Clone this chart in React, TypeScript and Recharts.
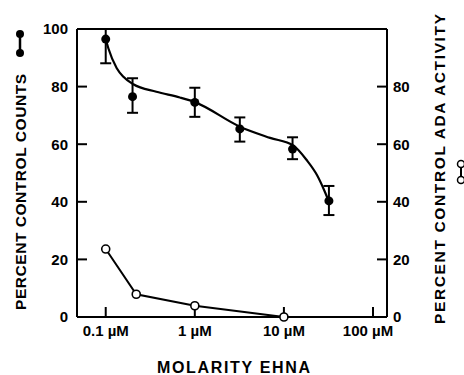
import { ComposedChart, Line, Scatter, XAxis, YAxis, ErrorBar, Label } from "recharts";

// filled circles: percent control counts (mean, lower and upper bar ends)
const countX = [0.1, 0.2, 1, 3.2, 12.5, 32];
const countY = [96.5, 76.5, 74.5, 65.3, 58.3, 40.3];
const countLow = [88.1, 70.9, 69.5, 60.9, 54.8, 35.4];
const countHigh = [100, 82.9, 79.6, 69.3, 62.4, 45.5];

// hand drawn fit through the counts
const fitX = [0.1, 0.107, 0.133, 0.158, 0.204, 0.37, 0.68, 1, 3.2, 7, 12.8, 18, 23.5, 28.8, 31.5];
const fitY = [96.5, 93.3, 86.4, 83.4, 80.8, 78.2, 76.2, 74.6, 66.1, 62.2, 59.5, 54.5, 49.3, 43.5, 40.6];

// open circles: percent control ADA activity
const adaX = [0.1, 0.22, 1, 10];
const adaY = [23.6, 7.9, 3.9, 0];

const xTicks = [0.1, 1, 10, 100];
const xTickLabels = ["0.1 µM", "1 µM", "10 µM", "100 µM"];
const leftTicks = [0, 20, 40, 60, 80, 100];
const rightTicks = [0, 20, 40, 60, 80];

const countData = countX.map((x, i) => ({
  x,
  y: countY[i],
  err: [countY[i] - countLow[i], countHigh[i] - countY[i]],
}));
const fitData = fitX.map((x, i) => ({ x, y: fitY[i] }));
const adaData = adaX.map((x, i) => ({ x, y: adaY[i] }));

const font = "'Liberation Sans', Arial, sans-serif";
const tickStyle = { fill: "#000", fontSize: 15, fontWeight: "bold", fontFamily: font };
const xDomain = [0.0476, 143.6];

// bottom tick text; the last one sits a little left of its tick, as in the print
const BottomTick = (p: any) => {
  const i = xTicks.indexOf(p.payload.value);
  return (
    <text
      x={p.x + (i === xTicks.length - 1 ? -5 : 0)}
      y={p.y}
      dy="0.71em"
      textAnchor="middle"
      fill="#000"
      fontSize={15}
      fontWeight="bold"
      fontFamily={font}
    >
      {xTickLabels[i]}
    </text>
  );
};

const LeftTitle = () => (
  <g>
    <line x1={20} y1={34} x2={20} y2={53} stroke="#000" strokeWidth={2.5} />
    <circle cx={20} cy={34} r={4} fill="#000" />
    <circle cx={20} cy={53} r={4} fill="#000" />
    <text
      x={20}
      y={192}
      transform="rotate(-90 20 192)"
      textAnchor="middle"
      dominantBaseline="central"
      textLength={236}
      lengthAdjust="spacing"
      fontFamily={font}
      fontWeight="bold"
      fontSize={15.5}
      fill="#000"
    >
      PERCENT CONTROL COUNTS
    </text>
  </g>
);

const RightTitle = () => (
  <g>
    <line x1={461} y1={164} x2={461} y2={180} stroke="#000" strokeWidth={2} />
    <circle cx={461} cy={164} r={3.5} fill="#fff" stroke="#000" strokeWidth={1.5} />
    <circle cx={461} cy={180} r={3.5} fill="#fff" stroke="#000" strokeWidth={1.5} />
    <text
      x={439}
      y={169}
      transform="rotate(-90 439 169)"
      textAnchor="middle"
      dominantBaseline="central"
      textLength={310}
      lengthAdjust="spacing"
      fontFamily={font}
      fontWeight="bold"
      fontSize={15.5}
      fill="#000"
    >
      PERCENT CONTROL ADA ACTIVITY
    </text>
  </g>
);

const BottomTitle = () => (
  <text
    x={233.5}
    y={373}
    textAnchor="middle"
    textLength={153}
    lengthAdjust="spacing"
    fontFamily={font}
    fontWeight="bold"
    fontSize={16}
    fill="#000"
  >
    MOLARITY EHNA
  </text>
);

export default function App() {
  return (
    <div style={{ position: "absolute", left: 0, top: 0, background: "#fff" }}>
      <ComposedChart width={464} height={375} margin={{ top: 19, right: 0, bottom: 0, left: 0 }}>
        <XAxis
          xAxisId="b"
          dataKey="x"
          type="number"
          scale="log"
          domain={xDomain}
          allowDataOverflow
          ticks={xTicks}
          height={58}
          tickSize={-10}
          tickMargin={18}
          tick={BottomTick}
          axisLine={{ stroke: "#000", strokeWidth: 2 }}
          tickLine={{ stroke: "#000", strokeWidth: 2 }}
        >
          <Label content={BottomTitle} />
        </XAxis>
        <XAxis
          xAxisId="t"
          orientation="top"
          type="number"
          scale="log"
          domain={xDomain}
          allowDataOverflow
          ticks={xTicks}
          tickFormatter={() => ""}
          height={10}
          tickSize={-10}
          axisLine={{ stroke: "#000", strokeWidth: 2 }}
          tickLine={{ stroke: "#000", strokeWidth: 2 }}
        />
        <YAxis
          yAxisId="l"
          type="number"
          domain={[0, 100]}
          ticks={leftTicks}
          width={77}
          tickSize={-10}
          tickMargin={19}
          tick={tickStyle}
          axisLine={{ stroke: "#000", strokeWidth: 2 }}
          tickLine={{ stroke: "#000", strokeWidth: 2 }}
        >
          <Label content={LeftTitle} />
        </YAxis>
        <YAxis
          yAxisId="r"
          orientation="right"
          type="number"
          domain={[0, 100]}
          ticks={rightTicks}
          width={77}
          tickSize={-10}
          tickMargin={16}
          tick={tickStyle}
          axisLine={{ stroke: "#000", strokeWidth: 2 }}
          tickLine={{ stroke: "#000", strokeWidth: 2 }}
        >
          <Label content={RightTitle} />
        </YAxis>
        <Line
          xAxisId="b"
          yAxisId="l"
          data={fitData}
          dataKey="y"
          type="monotone"
          stroke="#000"
          strokeWidth={2.2}
          dot={false}
          activeDot={false}
          isAnimationActive={false}
        />
        <Line
          xAxisId="b"
          yAxisId="r"
          data={adaData}
          dataKey="y"
          type="linear"
          stroke="#000"
          strokeWidth={2}
          dot={{ r: 4, fill: "#fff", stroke: "#000", strokeWidth: 1.6 }}
          activeDot={false}
          isAnimationActive={false}
        />
        <Scatter
          xAxisId="b"
          yAxisId="l"
          data={countData}
          dataKey="y"
          isAnimationActive={false}
          shape={(p: any) => <circle cx={p.cx} cy={p.cy} r={4.5} fill="#000" />}
        >
          <ErrorBar dataKey="err" direction="y" width={5.5} stroke="#000" strokeWidth={2} isAnimationActive={false} />
        </Scatter>
      </ComposedChart>
    </div>
  );
}
